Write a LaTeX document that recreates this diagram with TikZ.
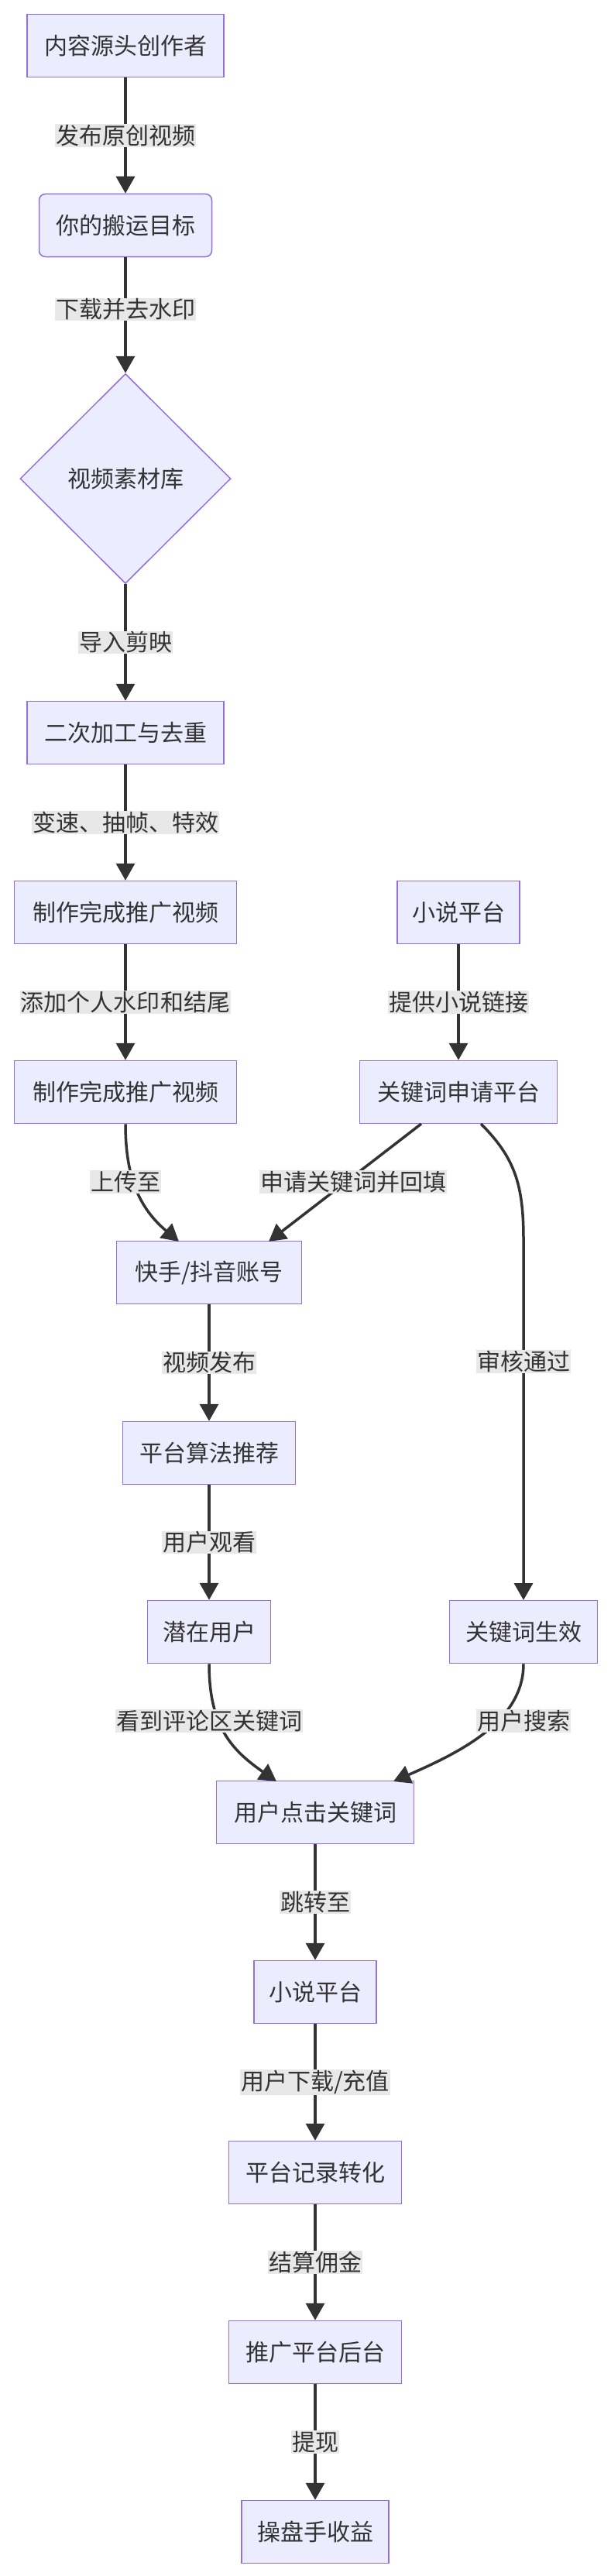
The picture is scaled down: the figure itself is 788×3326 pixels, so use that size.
\documentclass[tikz,border=0pt]{standalone}
\usepackage{fontspec}
\setmainfont{Noto Sans CJK SC}
\usetikzlibrary{arrows.meta,shapes.geometric}
\definecolor{nfill}{HTML}{ECECFF}
\definecolor{nline}{HTML}{9370DB}
\definecolor{eline}{HTML}{333333}
\definecolor{lbg}{HTML}{E8E8E8}
\definecolor{txt}{HTML}{333333}
\begin{document}
\begin{tikzpicture}[x=1pt,y=-1pt,
 box/.style={draw=nline,fill=nfill,line width=1.5pt,text=txt,font=\fontsize{30}{36}\selectfont,minimum height=81pt,inner xsep=16pt,anchor=center},
 rbox/.style={box,rounded corners=8pt},
 dia/.style={diamond,draw=nline,fill=nfill,line width=1.5pt,text=txt,font=\fontsize{30}{36}\selectfont,minimum width=272pt,minimum height=271pt,inner sep=0pt},
 lab/.style={fill=lbg,text=txt,font=\fontsize{30}{36}\selectfont,inner sep=1pt},
 ed/.style={draw=eline,line width=3.5pt,-{Triangle[length=22pt,width=24pt]}}]
\useasboundingbox (0,0) rectangle (788,3326);
\node[box,minimum width=254pt] (n1) at (162,59) {内容源头创作者};
\node[rbox,minimum width=223pt] (n2) at (162,291) {你的搬运目标};
\node[dia] (n3) at (162,618) {视频素材库};
\node[box,minimum width=254pt] (n4) at (162,946) {二次加工与去重};
\node[box,minimum width=287pt] (n5) at (162,1178) {制作完成推广视频};
\node[box,minimum width=287pt] (n6) at (162,1410) {制作完成推广视频};
\node[box,minimum width=158pt] (x1) at (592,1178) {小说平台};
\node[box,minimum width=255pt] (x2) at (592,1410) {关键词申请平台};
\node[box,minimum width=239pt] (k1) at (270,1643) {快手/抖音账号};
\node[box,minimum width=223pt] (k2) at (270,1876) {平台算法推荐};
\node[box,minimum width=159pt] (k3) at (270,2107) {潜在用户};
\node[box,minimum width=191pt] (g1) at (676,2107) {关键词生效};
\node[box,minimum width=255pt] (c1) at (407,2340) {用户点击关键词};
\node[box,minimum width=158pt] (c2) at (407,2572) {小说平台};
\node[box,minimum width=223pt] (c3) at (407,2805) {平台记录转化};
\node[box,minimum width=223pt] (c4) at (407,3037) {推广平台后台};
\node[box,minimum width=190pt] (c5) at (407,3269) {操盘手收益};

\draw[ed] (n1) -- (n2) node[lab,pos=0.5] {发布原创视频};
\draw[ed] (n2) -- (n3.north) node[lab,pos=0.45] {下载并去水印};
\draw[ed] (n3.south) -- (n4) node[lab,pos=0.5] {导入剪映};
\draw[ed] (n4) -- (n5) node[lab,pos=0.5] {变速、抽帧、特效};
\draw[ed] (n5) -- (n6) node[lab,pos=0.5] {添加个人水印和结尾};
\draw[ed] (x1) -- (x2) node[lab,pos=0.5] {提供小说链接};
\coordinate (k1a) at (231,1603);
\coordinate (k1b) at (347,1603);
\coordinate (x2a) at (544,1451);
\coordinate (x2b) at (621,1451);
\coordinate (g1t) at (676,2066);
\draw[ed] (n6.south) .. controls (162,1520) and (180,1560) .. (k1a);
\node[lab] at (162,1526) {上传至};
\draw[ed] (x2a) -- (k1b);
\node[lab] at (456,1526) {申请关键词并回填};
\draw[ed] (x2b) .. controls (665,1495) and (676,1530) .. (676,1600) -- (g1t);
\node[lab] at (676,1758) {审核通过};
\draw[ed] (k1) -- (k2) node[lab,pos=0.5] {视频发布};
\draw[ed] (k2) -- (k3) node[lab,pos=0.5] {用户观看};
\coordinate (c1a) at (357,2300);
\coordinate (c1b) at (508,2300);
\draw[ed] (k3.south) .. controls (270,2230) and (300,2260) .. (c1a);
\node[lab] at (270,2222) {看到评论区关键词};
\draw[ed] (g1.south) .. controls (676,2220) and (600,2260) .. (c1b);
\node[lab] at (676,2222) {用户搜索};
\draw[ed] (c1) -- (c2) node[lab,pos=0.5] {跳转至};
\draw[ed] (c2) -- (c3) node[lab,pos=0.5] {用户下载/充值};
\draw[ed] (c3) -- (c4) node[lab,pos=0.5] {结算佣金};
\draw[ed] (c4) -- (c5) node[lab,pos=0.5] {提现};
\end{tikzpicture}
\end{document}
